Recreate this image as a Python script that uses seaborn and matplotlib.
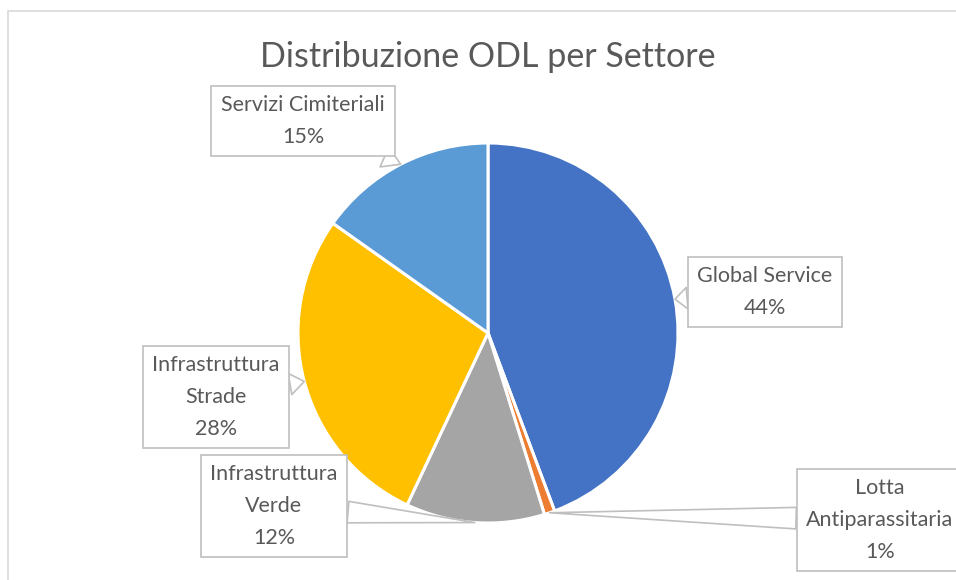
import matplotlib
matplotlib.use("Agg")
import matplotlib.pyplot as plt
import numpy as np
import seaborn as sns

sectors = ["Global Service", "Lotta Antiparassitaria", "Infrastruttura Verde",
           "Infrastruttura Strade", "Servizi Cimiteriali"]
counts = [443, 9, 118, 278, 152]
label_text = ["Global Service\n44%", "Lotta\nAntiparassitaria\n1%", "Infrastruttura\nVerde\n12%",
              "Infrastruttura\nStrade\n28%", "Servizi Cimiteriali\n15%"]

sns.set_theme(style="white")
plt.rcParams['font.family'] = ['Lato', 'DejaVu Sans']
colors = sns.color_palette(["#4472C4", "#ED7D31", "#A5A5A5", "#FFC000", "#5B9BD5"])

W, H = 956, 580
fig = plt.figure(figsize=(W / 100, H / 100), dpi=100)
ax = fig.add_axes([0, 0, 1, 1])

center = (488, H - 333)
radius = 190
wedges, _ = ax.pie(counts, colors=colors, startangle=90, counterclock=False,
                   center=center, radius=radius,
                   wedgeprops=dict(edgecolor="white", linewidth=2.2))
ax.set_xlim(0, W)
ax.set_ylim(0, H)
ax.set_aspect("equal")
ax.axis("off")

# chart area border (Excel-like)
ax.add_patch(plt.Rectangle((8, -50), 1100, H - 11 + 50, fill=False,
                           edgecolor="#d9d9d9", linewidth=1.2, clip_on=False))

ax.text(488, H - 57, "Distribuzione ODL per Settore", ha="center", va="center",
        fontsize=24.5, color="#595959")

# callout positions (pixel, y from top)
box_pos = [(765, 292), (880, 520), (274, 506), (216, 397), (303, 121)]
for w, txt, (bx, by) in zip(wedges, label_text, box_pos):
    mid = np.deg2rad((w.theta1 + w.theta2) / 2)
    tip = (center[0] + radius * np.cos(mid), center[1] + radius * np.sin(mid))
    ax.annotate(txt, xy=tip, xytext=(bx, H - by), ha="center", va="center",
                fontsize=15.5, color="#595959", linespacing=1.72,
                bbox=dict(boxstyle="square,pad=0.45", fc="white", ec="#bfbfbf", lw=1.2),
                arrowprops=dict(arrowstyle="wedge,tail_width=1.0,shrink_factor=0.5",
                                fc="white", ec="#bfbfbf", lw=1.2, shrinkA=0, shrinkB=0))

fig.savefig("out.png", dpi=100, facecolor="white")
